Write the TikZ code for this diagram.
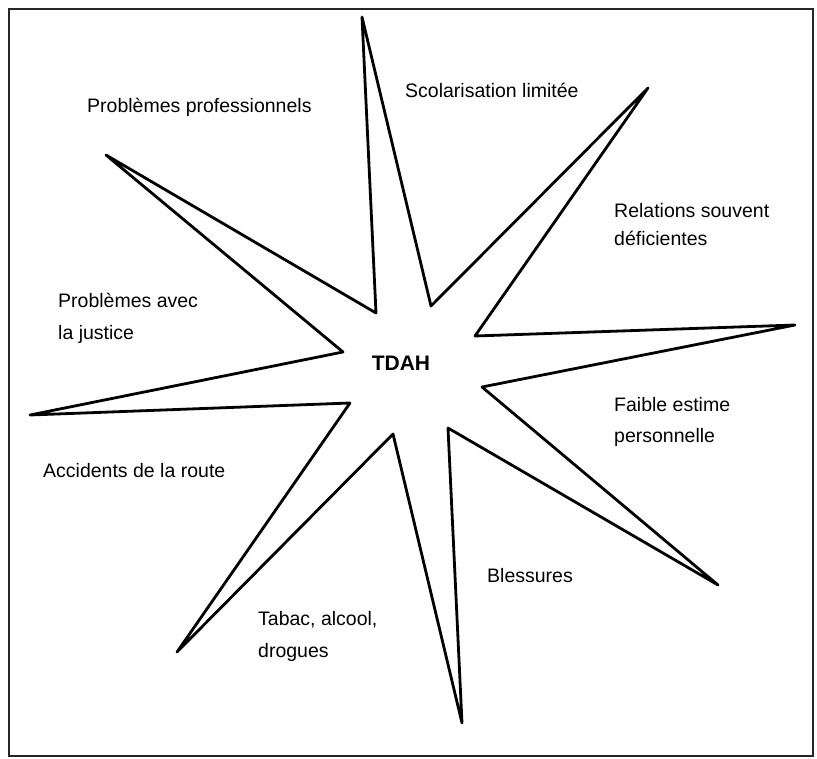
\documentclass[tikz,border=0pt]{standalone}
\usepackage{fontspec}
\setmainfont{Liberation Sans}
\begin{document}
\begin{tikzpicture}[x=1pt,y=-1pt,
  lbl/.style={anchor=base west,inner sep=0pt,font=\fontsize{19.5}{24}\selectfont},
  star/.style={draw=black,line width=2.8pt,line join=round,fill=white}]
\useasboundingbox (0,0) rectangle (817,759);
\draw[line width=1.5pt,black!85] (9,9) rectangle (813,756);
% star
\coordinate (o1) at (362,17);
\coordinate (i1) at (431,306);
\coordinate (o2) at (648,88);
\coordinate (i2) at (475,336);
\coordinate (o3) at (795,325);
\coordinate (i3) at (482,387);
\coordinate (o4) at (718,585);
\coordinate (i4) at (448,428);
\coordinate (o5) at (462,723);
\coordinate (i5) at (393,434);
\coordinate (o6) at (177,652);
\coordinate (i6) at (350,403);
\coordinate (o7) at (30,415);
\coordinate (i7) at (343,352);
\coordinate (o8) at (106,155);
\coordinate (i8) at (376,313);
\draw[star] (o1) -- (i1) -- (o2) -- (i2) -- (o3) -- (i3) -- (o4) -- (i4) -- (o5) -- (i5) -- (o6) -- (i6) -- (o7) -- (i7) -- (o8) -- (i8) -- cycle;
\node[anchor=center,inner sep=0pt,font=\fontsize{21}{24}\selectfont\bfseries] (tdah) at (401,363) {TDAH};
% labels
\node[lbl] (pp) at (87,113) {Problèmes professionnels};
\node[lbl] (sl) at (405,98) {Scolarisation limitée};
\node[lbl] (rs1) at (614,218) {Relations souvent};
\node[lbl] (rs2) at (614,246) {déficientes};
\node[lbl] (pj1) at (58,308) {Problèmes avec};
\node[lbl] (pj2) at (58,340) {la justice};
\node[lbl] (fe1) at (614,411) {Faible estime};
\node[lbl] (fe2) at (614,442) {personnelle};
\node[lbl] (ar) at (43,477) {Accidents de la route};
\node[lbl] (bl) at (487,582) {Blessures};
\node[lbl] (ta1) at (258,625) {Tabac, alcool,};
\node[lbl] (ta2) at (258,657) {drogues};
\end{tikzpicture}
\end{document}
